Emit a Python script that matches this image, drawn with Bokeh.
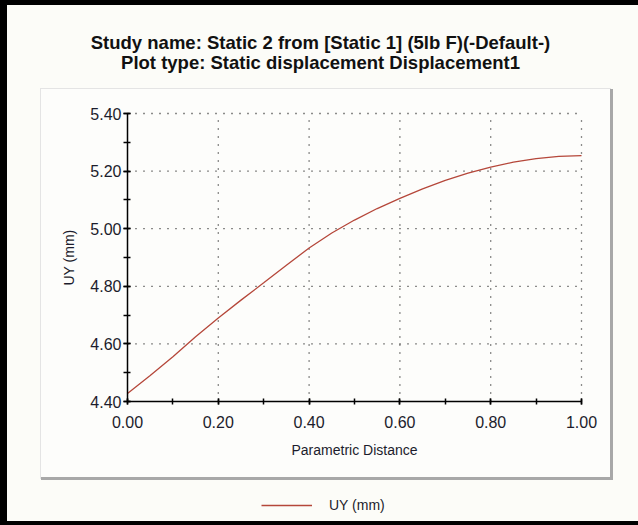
from bokeh.plotting import figure
from bokeh.models import (Range1d, Legend, Label, SingleIntervalTicker, NumeralTickFormatter)
from bokeh.embed import file_html
from bokeh.resources import INLINE

# ---- data ----
param_distance = [0.00, 0.05, 0.10, 0.15, 0.20, 0.25, 0.30, 0.35, 0.40, 0.45, 0.50,
                  0.55, 0.60, 0.65, 0.70, 0.75, 0.80, 0.85, 0.90, 0.95, 1.00]
uy_mm = [4.428, 4.490, 4.555, 4.625, 4.690, 4.752, 4.812, 4.873, 4.933, 4.985, 5.030,
         5.070, 5.105, 5.138, 5.168, 5.193, 5.214, 5.231, 5.243, 5.251, 5.254]
x_ticks = [0.0, 0.2, 0.4, 0.6, 0.8, 1.0]
y_ticks = [4.4, 4.6, 4.8, 5.0, 5.2, 5.4]
title_lines = ["Study name: Static 2 from [Static 1] (5lb F)(-Default-)",
               "Plot type: Static displacement Displacement1"]
x_label = "Parametric Distance"
y_label = "UY (mm)"
series_name = "UY (mm)"

# ---- layout (pixels) ----
W, H = 638, 525
X0, X1, YT, YB = 127, 581, 113, 401       # plotting box inside the canvas
XMIN, XMAX, YMIN, YMAX = x_ticks[0], x_ticks[-1], y_ticks[0], y_ticks[-1]
ppx = (X1 - X0) / (XMAX - XMIN)
ppy = (YB - YT) / (YMAX - YMIN)


def dx(px):
    return XMIN + (px - X0) / ppx


def dy(py):
    return YMAX - (py - YT) / ppy


BG = "#fcfcf8"
PANEL = "#fdfdfb"
TXT = "#1c1c2c"
LINE = "#b5473a"
FONT = "Liberation Sans"

# window frame (black edges) and the bevelled chart panel, painted behind a transparent canvas
layers = [
    ("black", "7px 100%", "0px 0px"),
    ("black", "100% 5px", "0px 0px"),
    ("black", "100% 4px", "0px 521px"),
    ("#a8a8a8", "3px 391px", "610px 89px"),
    ("#a8a8a8", "572px 3px", "41px 477px"),
    ("#e4e4e4", "571px 1px", "40px 88px"),
    ("#e4e4e4", "1px 391px", "40px 88px"),
    (PANEL, "570px 389px", "41px 89px"),
]
styles = {
    "background-color": BG,
    "background-image": ", ".join(f"linear-gradient({c}, {c})" for c, _, _ in layers),
    "background-size": ", ".join(s for _, s, _ in layers),
    "background-position": ", ".join(pos for _, _, pos in layers),
    "background-repeat": "no-repeat",
}

p = figure(width=W, height=H, output_backend="svg", toolbar_location=None,
           x_range=Range1d(dx(0), dx(W)), y_range=Range1d(dy(H), dy(0)),
           min_border=0, min_border_left=0, min_border_right=0,
           min_border_top=0, min_border_bottom=0, styles=styles)
p.title.visible = False
p.border_fill_alpha = 0
p.background_fill_alpha = 0
p.outline_line_color = None
p.xgrid.visible = False
p.ygrid.visible = False

# dotted grid at the major ticks
p.segment(x0=x_ticks[1:], y0=[YMIN] * (len(x_ticks) - 1), x1=x_ticks[1:], y1=[YMAX] * (len(x_ticks) - 1),
          line_color="black", line_dash="1 7", line_width=1.3, line_alpha=0.9)
p.segment(x0=[XMIN] * (len(y_ticks) - 1), y0=y_ticks[1:], x1=[XMAX] * (len(y_ticks) - 1), y1=y_ticks[1:],
          line_color="black", line_dash="1 7", line_width=1.3, line_alpha=0.9)

r = p.line(param_distance, uy_mm, line_color=LINE, line_width=1.3)

# axes drawn at fixed places inside the canvas
p.xaxis.fixed_location = YMIN
p.yaxis.fixed_location = XMIN
p.xaxis.bounds = (XMIN, XMAX)
p.yaxis.bounds = (YMIN, YMAX)
p.xaxis.ticker = SingleIntervalTicker(interval=0.2, num_minor_ticks=2)
p.yaxis.ticker = SingleIntervalTicker(interval=0.2, num_minor_ticks=2)
p.xaxis.formatter = NumeralTickFormatter(format="0.00")
p.yaxis.formatter = NumeralTickFormatter(format="0.00")
for ax in (p.xaxis, p.yaxis):
    ax.axis_line_color = "black"
    ax.axis_line_width = 1.5
    ax.major_tick_line_color = "black"
    ax.minor_tick_line_color = "black"
    ax.major_tick_line_width = 1.5
    ax.minor_tick_line_width = 1.5
    ax.major_label_text_font = FONT
    ax.major_label_text_font_size = "16px"
    ax.major_label_text_color = TXT
    ax.axis_label_text_font = FONT
    ax.axis_label_text_font_style = "normal"
    ax.axis_label_text_color = TXT
p.yaxis.major_tick_out = 4
p.yaxis.major_tick_in = 3
p.yaxis.minor_tick_out = 4
p.yaxis.minor_tick_in = 3
p.xaxis.major_tick_out = 3
p.xaxis.major_tick_in = 3
p.xaxis.minor_tick_out = 3
p.xaxis.minor_tick_in = 3
p.yaxis.major_label_standoff = 2
p.xaxis.major_label_standoff = 11
p.xaxis.axis_label = x_label
p.yaxis.axis_label = y_label
p.xaxis.axis_label_text_font_size = "14px"
p.yaxis.axis_label_text_font_size = "14px"
p.xaxis.axis_label_standoff = 11
p.yaxis.axis_label_standoff = 10

# two-line title
for i, t in enumerate(title_lines):
    p.add_layout(Label(x=dx(320), y=dy(42 + 20 * i), text=t, text_align="center",
                       text_baseline="middle", text_font=FONT, text_font_size="18.5px",
                       text_font_style="bold", text_color="#111111"))

legend = Legend(items=[(series_name, [r])], location=(261, H - 515), padding=0, margin=0,
                glyph_width=51, glyph_height=20, label_standoff=17,
                border_line_color=None, background_fill_alpha=0,
                label_text_font=FONT, label_text_font_size="14px", label_text_color=TXT)
p.add_layout(legend)

open("out.html", "w").write(file_html(p, INLINE))
